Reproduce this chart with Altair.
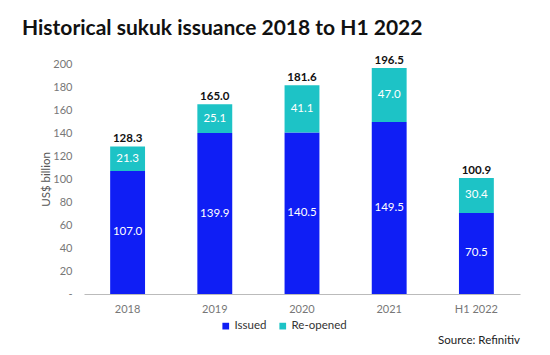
import altair as alt
import pandas as pd

years = ["2018", "2019", "2020", "2021", "H1 2022"]
issued = [107.0, 139.9, 140.5, 149.5, 70.5]
reopened = [21.3, 25.1, 41.1, 47.0, 30.4]
totals = [128.3, 165.0, 181.6, 196.5, 100.9]
series = ["Issued", "Re-opened"]
colors = ["#0F1EF5", "#1DC3C6"]
yticks = [0, 20, 40, 60, 80, 100, 120, 140, 160, 180, 200]

rows = []
for y, a, b in zip(years, issued, reopened):
    rows.append({"year": y, "type": "Issued", "value": a, "start": 0, "end": a, "mid": a / 2, "ord": 0, "lab": f"{a:.1f}"})
    rows.append({"year": y, "type": "Re-opened", "value": b, "start": a, "end": a + b, "mid": a + b / 2, "ord": 1, "lab": f"{b:.1f}"})
df = pd.DataFrame(rows)
tot = pd.DataFrame({"year": years, "total": totals, "lab": [f"{t:.1f}" for t in totals]})

FONT = "Lato"

xscale = alt.Scale(paddingInner=0.6, paddingOuter=0.3)
xaxis = alt.Axis(labelAngle=0, labelColor="#777777", labelFontSize=11, labelFont=FONT,
                 domainColor="#bbbbbb", ticks=False, labelPadding=9, grid=False)
yscale = alt.Scale(domain=[0, 200])
yaxis = alt.Axis(values=yticks, tickCount=11, grid=False, domain=False, ticks=False,
                 labelOverlap=False,
                 labelColor="#777777", labelFontSize=11, labelFont=FONT, labelPadding=12,
                 labelExpr="datum.value == 0 ? '-' : datum.label",
                 titleColor="#555555", titleFont=FONT, titleFontSize=11.5, titleFontWeight="normal",
                 titlePadding=1)
YT = "US$ billion"

bars = alt.Chart(df).mark_bar().encode(
    x=alt.X("year:N", sort=years, title=None, scale=xscale, axis=xaxis),
    y=alt.Y("start:Q", title=YT, scale=yscale, axis=yaxis),
    y2="end:Q",
    color=alt.Color("type:N", scale=alt.Scale(domain=series, range=colors),
                    legend=alt.Legend(title=None, orient="none", direction="horizontal",
                                      legendX=136, legendY=256, symbolType="square", symbolSize=45,
                                      labelFont=FONT, labelFontSize=11.5, labelColor="#333333",
                                      symbolStrokeWidth=0, columnPadding=10, labelOffset=3)),
)

inner = alt.Chart(df).mark_text(color="white", fontSize=11.5, font=FONT).encode(
    x=alt.X("year:N", sort=years, title=None, scale=xscale, axis=xaxis),
    y=alt.Y("mid:Q", title=YT, scale=yscale, axis=yaxis),
    text="lab:N",
)

top = alt.Chart(tot).mark_text(color="#111111", fontSize=11.5, font=FONT, fontWeight="bold", dy=-7).encode(
    x=alt.X("year:N", sort=years, title=None, scale=xscale, axis=xaxis),
    y=alt.Y("total:Q", title=YT, scale=yscale, axis=yaxis),
    text="lab:N",
)

source = alt.Chart(pd.DataFrame({"t": ["Source: Refinitiv"]})).mark_text(
    align="right", baseline="middle", fontSize=11.5, font=FONT, color="#222222"
).encode(x=alt.value(436), y=alt.value(277), text="t:N")

chart = alt.layer(bars, inner, top, source).properties(
    width=436, height=230,
    background="white",
    title=alt.Title("Historical sukuk issuance 2018 to H1 2022", anchor="start", frame="group", dx=-62,
                    fontSize=21, font=FONT, fontWeight="bold", color="#111111", offset=16),
    autosize=alt.AutoSizeParams(type="none"),
    padding={"left": 84, "top": 64, "right": 30, "bottom": 61},
).configure_view(stroke=None)

chart.save("out.html", embed_options={"renderer": "svg", "actions": False})
